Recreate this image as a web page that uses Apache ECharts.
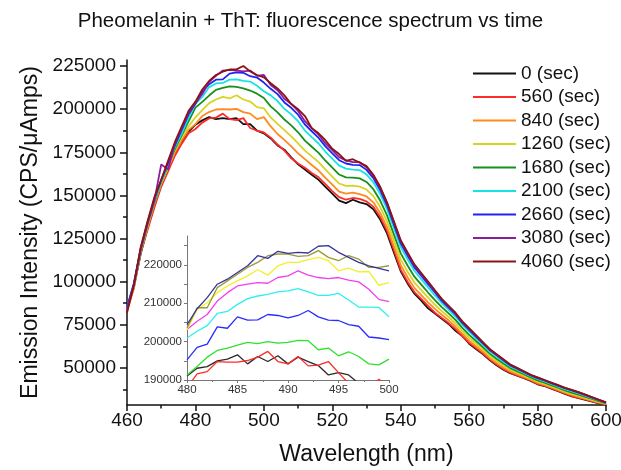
<!DOCTYPE html>
<html>
<head>
<meta charset="utf-8">
<title>Pheomelanin + ThT</title>
<script src="https://cdn.jsdelivr.net/npm/echarts@6/dist/echarts.min.js"></script>
<style>
html, body { margin: 0; padding: 0; background: #fff; }
#main { width: 621px; height: 470px; }
</style>
</head>
<body>
<div id="main"></div>
<script>
// wavelengths (nm) of the main spectrum
var wavelength = [460,462,464,466,468,470,472,474,476,478,480,482,484,486,488,490,492,494,496,498,500,
	502,504,506,508,510,512,514,516,518,520,522,524,526,528,530,532,534,536,538,540,
	542,544,546,548,550,552,554,556,558,560,562,564,566,568,570,572,574,576,578,580,
	582,584,586,588,590,592,594,596,598,600];

// wavelengths of the zoomed inset
var insetWavelength = [480,481,482,483,484,485,486,487,488,489,490,491,492,493,494,495,496,497,498,499,500];

var timeLabels = ['0 (sec)','560 (sec)','840 (sec)','1260 (sec)','1680 (sec)','2100 (sec)','2660 (sec)','3080 (sec)','4060 (sec)'];

var yTicks = [50000,75000,100000,125000,150000,175000,200000,225000];
var yMinorTicks = [37500,62500,87500,112500,137500,162500,187500,212500];
var insetYTicks = [190000,200000,210000,220000];
var insetYAllTicks = [190000,195000,200000,205000,210000,215000,220000,225000];

// emission intensity, one array per time
var s0 = [84000,97000,116000,131000,144000,156000,165000,174000,181000,187000,
	191000,193500,195400,194200,194800,194200,194800,191300,191300,187500,186000,
	183000,179000,176500,172000,168000,165000,162000,159000,155000,151000,147000,145500,147500,146000,145000,142000,136000,128000,117000,106000,
	99000,93000,89000,84500,81500,78500,75500,71500,68500,64000,61000,58000,54500,51500,49000,47000,45500,44000,42500,40500,39500,38000,36500,35000,33500,32500,31500,30500,29500,28800];
var s560 = [83000,96000,117000,130000,143000,155000,164000,173000,180000,186000,
	188500,192200,194600,195100,197400,194200,193700,194800,189100,187500,186500,
	183500,179500,176000,171500,168500,166000,163000,160500,156500,152500,149000,147500,148500,148000,146500,143500,137500,129500,118500,107000,
	100000,94000,90000,86000,82000,79000,76000,72500,68500,64500,61500,58500,55000,52000,49300,47300,45700,44200,42700,40700,39700,38200,36700,35200,33700,32700,31700,30600,29600,28900];
var s840 = [84000,98000,117000,132000,145000,157000,166000,175000,182000,188000,
	191300,196000,198300,199800,200000,199800,200200,198300,197400,194200,195400,
	190000,185600,182200,178400,174400,171000,167600,164400,160200,156200,152200,151000,151600,150800,149400,146000,139800,131600,120600,109600,
	102600,96400,92200,88000,84200,80800,77600,74000,69800,65800,62600,59400,55800,52800,50200,48000,46400,44800,43200,41300,40200,38700,37200,35700,34300,33200,32100,31000,29900,29000];
var s1260 = [84000,97000,118000,132000,146000,157000,166000,176000,184000,190000,
	195300,199400,203500,205600,207100,206200,208100,205600,204400,201200,200500,
	195200,191500,187800,184200,180200,176000,172600,169300,164900,160900,156900,155500,155700,155100,153400,149600,143200,134800,123800,112800,
	105800,99500,95100,90700,86600,82900,79500,75800,71400,67400,64000,60700,57000,54000,51300,48900,47200,45500,43800,42000,40800,39300,37800,36300,34900,33800,32600,31500,30300,29300];
var s1680 = [85000,98000,118000,133000,146000,158000,167000,177000,185000,193000,
	200900,204200,207900,211200,212300,213200,212900,212100,210800,209000,206500,
	201600,198100,194000,190600,186600,181800,178200,174700,170100,166100,162100,160500,160300,159900,157800,153600,147000,138400,127400,116400,
	109400,102900,98300,93700,89300,85200,81600,77800,73200,69200,65600,62100,58300,55300,52500,49900,48100,46300,44500,42800,41500,40000,38500,37000,35700,34500,33200,32000,30700,29500];
var s2100 = [85000,99000,119000,134000,147000,158000,168000,178000,186000,195000,
	203100,207100,212800,214900,215200,217100,217300,216400,216000,213600,210400,
	208000,204700,200200,197000,193000,187600,183800,180100,175300,171300,167300,165500,164900,164700,162200,157600,150800,142000,131000,120000,
	113000,106300,101500,96700,92000,87500,83700,79800,75000,71000,67200,63500,59600,56600,53700,50900,49000,47100,45200,43600,42200,40700,39200,37700,36500,35200,33800,32500,31100,29700];
var s2660 = [85000,99000,119000,134000,148000,159000,169000,179000,188000,197000,
	203100,210100,214500,217100,217300,220600,221300,221100,219100,218300,215400,
	211800,208700,203900,200800,196800,191100,187200,183300,178400,174400,170400,168500,167700,167600,164800,160000,153100,144200,133200,122200,
	115200,108300,103400,98500,93700,88900,85000,81000,76100,72100,68200,64300,60400,57400,54400,51500,49600,47600,45700,44100,42700,41200,39700,38200,36900,35700,34200,32800,31300,29900];
var s3080 = [84000,98000,119000,134000,147000,168000,165000,180000,189000,198000,
	203600,208800,215800,219300,222400,222800,222400,221900,222400,219300,219800,
	214000,211000,206000,203000,199000,193000,189000,185200,180200,176200,172200,170300,169300,169300,166300,161400,154400,145500,134500,123500,
	116500,109500,104500,99600,94600,89700,85700,81700,76700,72700,68800,64800,60800,57800,54800,51900,49900,47900,45900,44400,42900,41400,39900,38400,37200,35900,34400,32900,31400,30000];
var s4060 = [82000,98000,120000,135000,149000,159000,170000,181000,190000,199000,
	204400,211400,216300,219800,221700,223000,223100,225000,221900,219800,218400,
	215000,212000,208000,203000,200000,196000,189000,186000,182000,177000,174000,170000,171000,169000,167000,162000,155000,146000,135000,124000,
	117000,110000,105000,100000,95000,90000,86000,82000,77000,73000,69000,65000,61000,58000,55000,52000,50000,48000,46000,44500,43000,41500,40000,38500,37300,36000,34500,33000,31500,30000];

// inset, 480-500 nm at 1 nm
var in0 = [191050,193060,193500,194990,195425,196560,194200,196125,194810,196300,194200,195950,194810,193760,191310,191925,191310,189125,187500,186500,186000];
var in560 = [188000,191575,192190,194810,194640,194640,195075,195950,197440,194810,194200,196125,193675,193850,194810,191925,189125,186000,188000,190200,188000];
var in840 = [191310,193500,195950,197700,198310,199100,199800,199450,199975,199625,199800,200325,200240,197875,198310,196300,197350,196125,194200,193940,195425];
var in1260 = [195250,198490,199360,203825,203475,206450,205575,205660,207060,206800,206190,206800,208110,206450,205575,205490,204440,204000,201200,200940,200500];
var in1680 = [200940,202690,204175,207325,207850,209690,211175,211875,212310,212925,213190,213800,212925,212050,212050,212575,210825,208990,208990,208900,206450];
var in2100 = [203125,205310,207060,210560,212750,214500,214940,215375,215200,216690,217125,218440,217300,216690,216425,216690,215990,215550,213625,211000,210390];
var in2660 = [203125,208375,210125,212750,214500,215810,217125,218700,217300,219750,220625,220625,221325,221940,221060,218440,219140,218175,218260,214675,215375];
var in3080 = [203560,208810,208810,214060,215810,217560,219310,220625,222375,222810,222810,222200,222375,223690,221940,221060,222375,221500,219310,219310,219750];
var in4060 = [204440,208550,211440,214940,216250,218000,219750,222375,221675,223510,222990,223250,223075,224825,225000,223250,221940,220625,219750,219050,218440];

var mainSeries = [s0, s560, s840, s1260, s1680, s2100, s2660, s3080, s4060];
var insetSeries = [in0, in560, in840, in1260, in1680, in2100, in2660, in3080, in4060];

var lineColors = ['#111111','#ff2b2b','#ff8a1f','#d6d424','#17901c','#16e4e4','#2222f2','#8c1c9c','#8a1414'];
var insetColors = ['#2a2a2a','#ff2a2a','#30e030','#2b2bff','#2ef0f0','#f23ef2','#f2f02a','#9a9a38','#35359a'];

var font = '"Liberation Sans", Arial, Helvetica, sans-serif';

function toPairs(xs, ys) {
	var out = [];
	for (var i = 0; i < xs.length; i++) {
		out.push([xs[i], ys[i]]);
	}
	return out;
}

// plain numbers, no thousands separator
function plain(v) {
	return String(v);
}

var series = [];
for (var i = 0; i < timeLabels.length; i++) {
	series.push({
		name: timeLabels[i],
		type: 'line',
		xAxisIndex: 0,
		yAxisIndex: 0,
		data: toPairs(wavelength, mainSeries[i]),
		symbol: 'none',
		lineStyle: { color: lineColors[i], width: 1.8 },
		itemStyle: { color: lineColors[i] },
		z: 2
	});
}
for (var j = 0; j < timeLabels.length; j++) {
	series.push({
		name: 'inset ' + timeLabels[j],
		type: 'line',
		xAxisIndex: 1,
		yAxisIndex: 2,
		data: toPairs(insetWavelength, insetSeries[j]),
		symbol: 'none',
		clip: true,
		lineStyle: { color: insetColors[j], width: 1.3 },
		itemStyle: { color: insetColors[j] },
		z: 3
	});
}

var axisColor = '#111';
var insetAxisColor = '#777';

var myChart = echarts.init(document.getElementById('main'));
var option = {
	animation: false,
	backgroundColor: '#fff',
	title: {
		text: 'Pheomelanin + ThT: fluorescence spectrum vs time',
		left: 'center',
		top: 6,
		textStyle: { fontSize: 20.5, fontWeight: 'normal', color: '#111', fontFamily: font }
	},
	legend: {
		data: timeLabels,
		orient: 'vertical',
		left: 468,
		top: 59,
		icon: 'rect',
		itemWidth: 43,
		itemHeight: 2,
		itemGap: 4.5,
		textStyle: { fontSize: 19, lineHeight: 19, color: '#111', fontFamily: font }
	},
	grid: [
		{ left: 127, right: 15, top: 60, bottom: 65, outerBoundsMode: 'none' },
		{ left: 187, top: 236, width: 202, height: 144, outerBoundsMode: 'none' }
	],
	xAxis: [
		{
			type: 'value', gridIndex: 0, min: 460, max: 600, interval: 20,
			name: 'Wavelength (nm)', nameLocation: 'middle', nameGap: 38,
			nameTextStyle: { fontSize: 23, color: '#111', fontFamily: font },
			axisLine: { show: true, onZero: false, lineStyle: { color: axisColor, width: 1.5 } },
			axisTick: { show: true, length: 6, lineStyle: { color: axisColor, width: 1.5 } },
			minorTick: { show: true, splitNumber: 2, length: 3.5, lineStyle: { color: axisColor, width: 1.5 } },
			axisLabel: { fontSize: 19, color: '#111', margin: 6, fontFamily: font, formatter: plain },
			splitLine: { show: false }
		},
		{
			type: 'value', gridIndex: 1, min: 480, max: 500, interval: 5,
			axisLine: { show: true, onZero: false, lineStyle: { color: insetAxisColor, width: 1 } },
			axisTick: { show: true, length: 3, lineStyle: { color: insetAxisColor } },
			minorTick: { show: true, splitNumber: 2, length: 2, lineStyle: { color: insetAxisColor } },
			axisLabel: { fontSize: 11.5, color: '#333', margin: 4, fontFamily: font, formatter: plain },
			splitLine: { show: false }
		}
	],
	yAxis: [
		{
			type: 'value', gridIndex: 0, min: 28500, max: 228500, position: 'left',
			name: 'Emission Intensity (CPS/\u03bcAmps)', nameLocation: 'middle', nameGap: 80,
			nameTextStyle: { fontSize: 23, color: '#111', fontFamily: font },
			axisLine: { show: true, onZero: false, lineStyle: { color: axisColor, width: 1.5 } },
			axisTick: { show: true, length: 7, customValues: yTicks, lineStyle: { color: axisColor, width: 1.5 } },
			axisLabel: { customValues: yTicks, fontSize: 19, color: '#111', margin: 11, fontFamily: font, formatter: plain },
			splitLine: { show: false }
		},
		{
			// minor ticks of the main y axis
			type: 'value', gridIndex: 0, min: 28500, max: 228500, position: 'left',
			axisLine: { show: false },
			axisTick: { show: true, length: 4, customValues: yMinorTicks, lineStyle: { color: axisColor, width: 1.5 } },
			axisLabel: { show: false },
			splitLine: { show: false }
		},
		{
			type: 'value', gridIndex: 1, min: 190000, max: 227500, position: 'left',
			axisLine: { show: true, onZero: false, lineStyle: { color: insetAxisColor, width: 1 } },
			axisTick: { show: true, length: 3, customValues: insetYAllTicks, lineStyle: { color: insetAxisColor } },
			axisLabel: { customValues: insetYTicks, fontSize: 11.5, color: '#333', margin: 5, fontFamily: font, formatter: plain },
			splitLine: { show: false }
		}
	],
	series: series
};
myChart.setOption(option);
</script>
</body>
</html>
